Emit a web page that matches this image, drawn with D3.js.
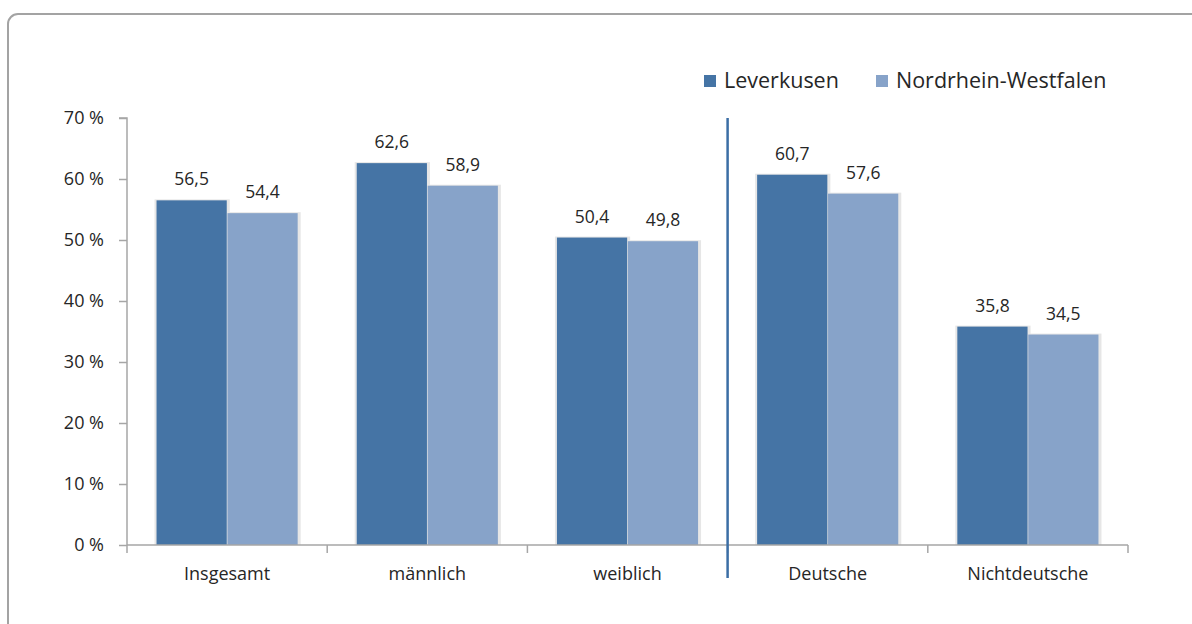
<!DOCTYPE html>
<html>
<head>
<meta charset="utf-8">
<script src="https://cdn.jsdelivr.net/npm/d3@7"></script>
<style>
	body { margin: 0; background: #fff; }
	text { font-family: "Open Sans", "Noto Sans", sans-serif; fill: #262626; }
</style>
</head>
<body>
<svg id="chart" width="1192" height="624"></svg>
<script>
var categories = ["Insgesamt", "männlich", "weiblich", "Deutsche", "Nichtdeutsche"];
var seriesNames = ["Leverkusen", "Nordrhein-Westfalen"];
var leverkusen = [56.5, 62.6, 50.4, 60.7, 35.8];
var nrw = [54.4, 58.9, 49.8, 57.6, 34.5];
var yTicks = [0, 10, 20, 30, 40, 50, 60, 70];

var colors = ["#4574a5", "#87a3c9"];

window.onload = init;

function init() {
	var svg = d3.select("#chart");
	var margin = { left: 127, right: 64, top: 118, bottom: 79 };
	var w = 1192, h = 624;

	// frame
	svg.append("rect")
		.attr("x", 8).attr("y", 14)
		.attr("width", 1200).attr("height", 640)
		.attr("rx", 10).attr("ry", 10)
		.attr("fill", "none")
		.attr("stroke", "#a3a3a3")
		.attr("stroke-width", 2);

	var x = d3.scaleBand()
		.domain(categories)
		.range([margin.left, w - margin.right])
		.paddingInner(0.295)
		.paddingOuter(0.1475);
	var xs = d3.scaleBand()
		.domain([0, 1])
		.range([0, x.bandwidth()])
		.paddingInner(0.01);
	var y = d3.scaleLinear()
		.domain([0, 70])
		.range([h - margin.bottom, margin.top]);

	var data = categories.map(function(c, i) {
		return { cat: c, vals: [leverkusen[i], nrw[i]] };
	});

	// bars with a soft shadow
	var g = svg.append("g").attr("class", "bars");
	var grp = g.selectAll("g").data(data).enter().append("g")
		.attr("transform", function(d) { return "translate(" + x(d.cat) + ",0)"; });

	grp.selectAll("rect.shadow")
		.data(function(d) { return d.vals; })
		.enter().append("rect")
		.attr("class", "shadow")
		.attr("x", function(d, i) { return xs(i) - 2; })
		.attr("y", function(d) { return y(d) - 1; })
		.attr("width", xs.bandwidth() + 5)
		.attr("height", function(d) { return y(0) - y(d) + 1; })
		.attr("fill", "#e6e6e6");

	grp.selectAll("rect.bar")
		.data(function(d) { return d.vals; })
		.enter().append("rect")
		.attr("class", "bar")
		.attr("x", function(d, i) { return xs(i); })
		.attr("y", function(d) { return y(d); })
		.attr("width", xs.bandwidth())
		.attr("height", function(d) { return y(0) - y(d); })
		.attr("fill", function(d, i) { return colors[i]; });

	grp.selectAll("text.val")
		.data(function(d) { return d.vals; })
		.enter().append("text")
		.attr("class", "val")
		.attr("x", function(d, i) { return xs(i) + xs.bandwidth() / 2; })
		.attr("y", function(d) { return y(d) - 15; })
		.attr("text-anchor", "middle")
		.style("font-size", "17.5px")
		.text(function(d) { return d3.format(".1f")(d).replace(".", ","); });

	// y axis
	var yAxis = d3.axisLeft(y)
		.tickValues(yTicks)
		.tickSize(8)
		.tickPadding(15)
		.tickFormat(function(d) { return d + " %"; });
	var ya = svg.append("g")
		.attr("transform", "translate(" + margin.left + ",0)")
		.call(yAxis);

	// x axis with ticks on category boundaries
	var xAxis = d3.axisBottom(x).tickSize(0).tickPadding(22);
	var xa = svg.append("g")
		.attr("transform", "translate(0," + y(0) + ")")
		.call(xAxis);
	var bounds = d3.range(categories.length + 1).map(function(i) {
		return margin.left + i * x.step();
	});
	xa.selectAll("line.bound").data(bounds).enter().append("line")
		.attr("class", "bound")
		.attr("x1", function(d) { return d; })
		.attr("x2", function(d) { return d; })
		.attr("y1", 0).attr("y2", 8);

	[ya, xa].forEach(function(a) {
		a.attr("font-size", null).attr("font-family", null);
		a.select(".domain").attr("stroke", "#a6a6a6").attr("stroke-width", 1.5);
		a.selectAll("line").attr("stroke", "#a6a6a6").attr("stroke-width", 1.5);
		a.selectAll("text").style("font-size", "18px").attr("fill", "#262626");
	});
	xa.select(".domain").attr("d", "M" + margin.left + ",0H" + (w - margin.right));
	ya.select(".domain").attr("d", "M-8," + margin.top + "H0V" + y(0));

	// divider between sex and nationality groups
	var divX = x("Deutsche") - x.step() * x.paddingInner() / 2;
	svg.append("line")
		.attr("x1", divX).attr("x2", divX)
		.attr("y1", margin.top).attr("y2", 578)
		.attr("stroke", "#3b6ea5")
		.attr("stroke-width", 2.5);

	// legend
	var legX = [704, 876];
	var leg = svg.append("g").selectAll("g").data(seriesNames).enter().append("g")
		.attr("transform", function(d, i) { return "translate(" + legX[i] + ",75)"; });
	leg.append("rect")
		.attr("width", 12).attr("height", 12)
		.attr("fill", function(d, i) { return colors[i]; });
	leg.append("text")
		.attr("x", 20).attr("y", 13)
		.style("font-size", "21.5px")
		.text(function(d) { return d; });
}
</script>
</body>
</html>
